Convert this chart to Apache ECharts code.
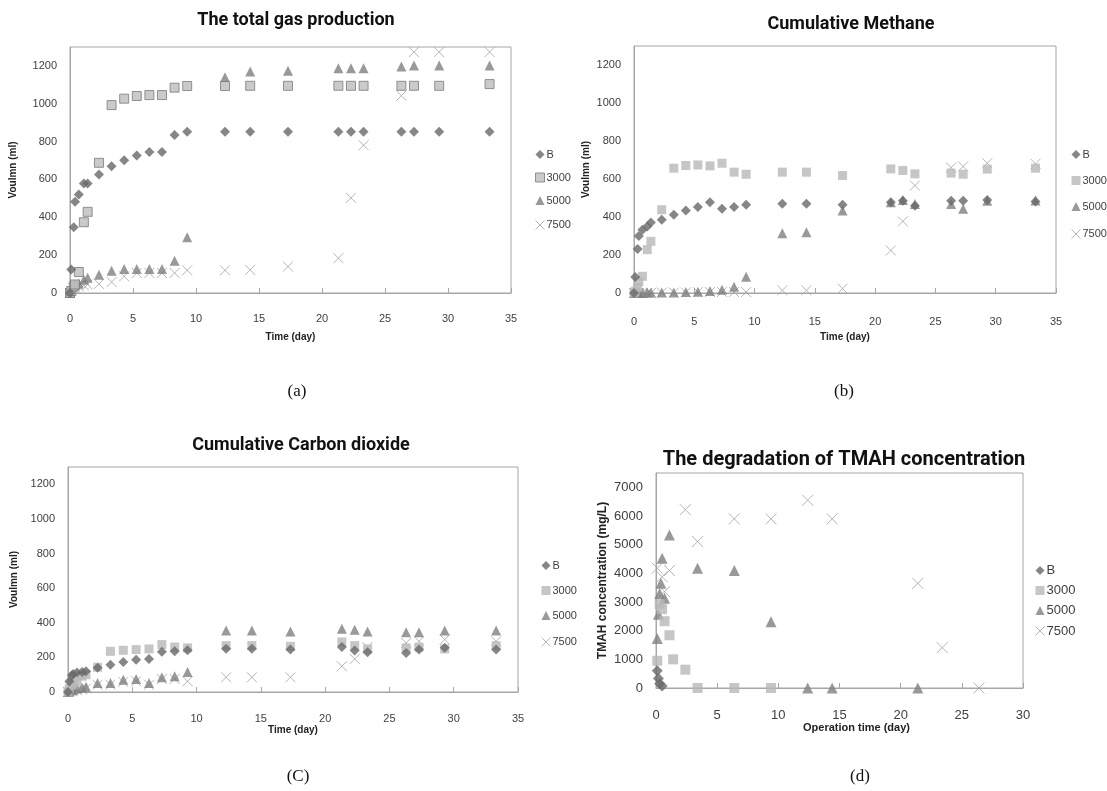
<!DOCTYPE html>
<html>
<head>
<meta charset="utf-8">
<script src="https://cdn.jsdelivr.net/npm/echarts/dist/echarts.min.js"></script>
<style>
  html, body { margin: 0; background: #fff; }
  #c { width: 1107px; height: 791px; }
</style>
</head>
<body>
<div id="c"></div>
<script>
(function () {
  "use strict";

  /* sampling days shared by the three gas panels (a)-(c) */
  const DAYS = [0, 0.1, 0.3, 0.4, 0.7, 1.1, 1.4, 2.3, 3.3, 4.3, 5.3, 6.3, 7.3, 8.3, 9.3,
    12.3, 14.3, 17.3, 21.3, 22.3, 23.3, 26.3, 27.3, 29.3, 33.3];

  /* (a) total gas production, ml */
  const GAS_B = [0, 124, 348, 482, 520, 579, 579, 626, 670, 702, 727, 745, 745, 835, 852,
    852, 852, 852, 852, 852, 852, 852, 852, 852, 852];
  const GAS_3000 = [0, 10, 35, 45, 111, 374, 429, 688, 993, 1027, 1041, 1046, 1046, 1085, 1094,
    1094, 1095, 1095, 1095, 1095, 1095, 1095, 1095, 1095, 1104];
  const GAS_5000 = [0, 25, 40, 45, 50, 70, 80, 97, 118, 127, 127, 127, 127, 171, 295,
    1140, 1170, 1175, 1188, 1188, 1188, 1197, 1202, 1202, 1202];
  const GAS_7500 = [0, 10, 25, 30, 35, 40, 45, 48, 58, 88, 106, 106, 106, 106, 120,
    120, 122, 140, 184, 503, 781, 1043, 1273, 1273, 1273];

  /* (b) cumulative methane, ml */
  const CH4_B = [0, 84, 231, 300, 333, 350, 371, 385, 412, 434, 452, 478, 443, 452, 464,
    470, 470, 464, 478, 485, 459, 485, 485, 490, 482];
  const CH4_3000 = [0, 10, 30, 60, 88, 228, 272, 438, 657, 671, 674, 669, 683, 636, 625,
    636, 636, 618, 653, 645, 627, 631, 625, 652, 657];
  const CH4_5000 = [0, 0, 0, 0, 0, 2, 2, 3, 3, 5, 7, 10, 17, 33, 86,
    315, 320, 434, 478, 490, 469, 469, 443, 485, 487];
  const CH4_7500 = [0, 0, 0, 0, 0, 0, 0, 2, 2, 3, 5, 5, 5, 5, 5,
    14, 14, 23, 224, 377, 566, 660, 666, 683, 680];

  /* (C) cumulative carbon dioxide, ml */
  const CO2_B = [0, 60, 95, 104, 112, 116, 120, 140, 158, 174, 187, 191, 232, 235, 241,
    250, 250, 245, 260, 240, 230, 225, 245, 255, 245];
  const CO2_3000 = [0, 20, 40, 52, 62, 91, 100, 143, 235, 241, 245, 249, 274, 260, 255,
    268, 268, 264, 289, 268, 249, 255, 259, 249, 268];
  const CO2_5000 = [0, 5, 10, 15, 20, 25, 30, 52, 52, 71, 75, 52, 85, 91, 116,
    355, 355, 350, 365, 360, 350, 345, 345, 355, 355];
  const CO2_7500 = [0, 2, 5, 8, 10, 15, 20, 42, 42, 58, 62, 42, 75, 75, 62,
    85, 85, 85, 149, 191, 259, 284, 293, 303, 293];

  /* (d) TMAH concentration, mg/L, each run with its own days */
  const TMAH_B_DAYS = [0.1, 0.2, 0.3, 0.5];
  const TMAH_B = [600, 330, 150, 70];
  const TMAH_3000_DAYS = [0.1, 0.3, 0.5, 0.7, 1.1, 1.4, 2.4, 3.4, 6.4, 9.4];
  const TMAH_3000 = [950, 2930, 2750, 2330, 1840, 1000, 640, 0, 0, 0];
  const TMAH_5000_DAYS = [0.1, 0.2, 0.3, 0.4, 0.5, 0.7, 1.1, 3.4, 6.4, 9.4, 12.4, 14.4, 21.4];
  const TMAH_5000 = [1730, 2570, 3300, 3650, 4530, 3130, 5340, 4180, 4100, 2310, 0, 0, 0];
  const TMAH_7500_DAYS = [0.1, 0.5, 0.7, 1.1, 2.4, 3.4, 6.4, 9.4, 12.4, 14.4, 21.4, 23.4, 26.4];
  const TMAH_7500 = [4180, 3880, 3360, 4100, 6220, 5110, 5900, 5900, 6550, 5900, 3650, 1410, 0];

  const NAMES = ["B", "3000", "5000", "7500"];
  const TITLES = ["The total gas production", "Cumulative Methane",
    "Cumulative Carbon dioxide", "The degradation of TMAH concentration"];
  const CAPTIONS = ["(a)", "(b)", "(C)", "(d)"];

  const DARK = "#686868";
  const LIGHT = "#b8b8b8";
  const MID = "#808080";
  const CROSS = "#a3a3a3";
  const AXIS = "#a6a6a6";
  const TXT = "#404040";
  const SANS = "'Liberation Sans', Arial, sans-serif";
  const CROSS_PATH = "path://M0,0L10,10M10,0L0,10";

  function zip(xs, ys) {
    const out = [];
    xs.forEach((x, i) => { if (ys[i] !== null && ys[i] !== undefined) out.push([x, ys[i]]); });
    return out;
  }

  // same legend label in every panel, kept distinct with zero-width spaces
  function tag(name, panel) {
    return name + "\u200b".repeat(panel);
  }

  // marker look per run; panel 0 draws squares with an outline like the original
  function look(k, panel) {
    const big = panel === 3 ? 1 : 0;
    if (k === 0) return { symbol: "diamond", symbolSize: 10 + big, itemStyle: { color: DARK } };
    if (k === 1) {
      return panel === 0
        ? { symbol: "rect", symbolSize: 9, itemStyle: { color: "#bdbdbd", borderColor: "#7a7a7a", borderWidth: 1 } }
        : { symbol: "rect", symbolSize: 9 + big, itemStyle: { color: LIGHT } };
    }
    if (k === 2) return { symbol: "triangle", symbolSize: 10 + big, itemStyle: { color: MID } };
    return { symbol: CROSS_PATH, symbolSize: 10 + big,
      itemStyle: { color: "none", borderColor: CROSS, borderWidth: 1 } };
  }

  const panels = [
    { xs: [DAYS, DAYS, DAYS, DAYS], ys: [GAS_B, GAS_3000, GAS_5000, GAS_7500] },
    { xs: [DAYS, DAYS, DAYS, DAYS], ys: [CH4_B, CH4_3000, CH4_5000, CH4_7500] },
    { xs: [DAYS, DAYS, DAYS, DAYS], ys: [CO2_B, CO2_3000, CO2_5000, CO2_7500] },
    { xs: [TMAH_B_DAYS, TMAH_3000_DAYS, TMAH_5000_DAYS, TMAH_7500_DAYS],
      ys: [TMAH_B, TMAH_3000, TMAH_5000, TMAH_7500] },
  ];

  const grids = [
    { left: 70, top: 47, width: 441, height: 246 },
    { left: 634, top: 46, width: 422, height: 247 },
    { left: 68, top: 467, width: 450, height: 225 },
    { left: 656, top: 473, width: 367, height: 215 },
  ].map((g) => Object.assign({ show: true, borderColor: AXIS, borderWidth: 1, containLabel: false }, g));

  const xMeta = [
    { max: 35, name: "Time (day)", margin: 20, gap: 39, fs: 11 },
    { max: 35, name: "Time (day)", margin: 23, gap: 39, fs: 11 },
    { max: 35, name: "Time (day)", margin: 21, gap: 33, fs: 11 },
    { max: 30, name: "Operation time (day)", margin: 21, gap: 33, fs: 13, pad: [0, 0, 0, 34] },
  ];
  const yMeta = [
    { max: 1300, step: 200, name: "Voulmn (ml)", gap: 52, fs: 11, nfs: 10 },
    { max: 1300, step: 200, name: "Voulmn (ml)", gap: 43, fs: 11, nfs: 10 },
    { max: 1300, step: 200, name: "Voulmn (ml)", gap: 49, fs: 11, nfs: 10 },
    { max: 7500, step: 1000, name: "TMAH concentration (mg/L)", gap: 47, fs: 13, nfs: 12 },
  ];

  const xAxis = xMeta.map((m, i) => ({
    type: "value", gridIndex: i, min: 0, max: m.max, interval: 5,
    name: m.name, nameLocation: "middle", nameGap: m.gap,
    nameTextStyle: { fontFamily: SANS, fontWeight: "bold", fontSize: i === 3 ? 11 : 10,
      color: "#222", padding: m.pad || 0 },
    axisLine: { show: true, lineStyle: { color: AXIS } },
    axisTick: { show: true, inside: true, length: 5, lineStyle: { color: AXIS } },
    axisLabel: { color: TXT, fontSize: m.fs, fontFamily: SANS, margin: m.margin },
    splitLine: { show: false },
  }));

  const yAxis = yMeta.map((m, i) => ({
    type: "value", gridIndex: i, min: 0, max: m.max, interval: m.step / 2,
    name: m.name, nameLocation: "middle", nameGap: m.gap,
    nameTextStyle: { fontFamily: SANS, fontWeight: "bold", fontSize: m.nfs, color: "#222" },
    axisLine: { show: true, lineStyle: { color: AXIS } },
    axisTick: { show: false },
    axisLabel: { color: TXT, fontSize: m.fs, fontFamily: SANS, margin: 13,
      showMaxLabel: false,
      formatter: (v) => (v % m.step === 0 ? String(v) : "") },
    splitLine: { show: false },
  }));

  const series = [];
  panels.forEach((p, i) => {
    NAMES.forEach((n, k) => {
      series.push(Object.assign({
        type: "scatter", name: tag(n, i), xAxisIndex: i, yAxisIndex: i,
        data: zip(p.xs[k], p.ys[k]), z: 2 + (3 - k), silent: true,
      }, look(k, i)));
    });
  });

  const legendPos = [
    { left: 528, top: 144, itemGap: 12, fs: 11 },
    { left: 1064, top: 144, itemGap: 15, fs: 11 },
    { left: 534, top: 555, itemGap: 14, fs: 11 },
    { left: 1028, top: 559, itemGap: 7, fs: 13 },
  ];
  const legend = legendPos.map((l, i) => ({
    orient: "vertical", left: l.left, top: l.top, itemGap: l.itemGap,
    itemWidth: 9, itemHeight: 9, selectedMode: false,
    textStyle: { color: TXT, fontSize: l.fs, fontFamily: SANS, padding: [0, 0, 0, -3] },
    data: NAMES.map((n, k) => {
      const s = look(k, i);
      return { name: tag(n, i), icon: s.symbol, itemStyle: s.itemStyle };
    }),
  }));

  const titlePos = [[296, 11], [851, 15], [301, 436], [844, 450]];
  const capPos = [[297, 383], [844, 383], [298, 768], [860, 768]];
  const title = [];
  TITLES.forEach((t, i) => title.push({
    text: t, left: titlePos[i][0], top: titlePos[i][1], textAlign: "center", padding: 0,
    textStyle: { fontFamily: "Roboto, sans-serif", fontWeight: "bold", fontSize: i === 3 ? 20 : 18, color: "#111" },
  }));
  CAPTIONS.forEach((t, i) => title.push({
    text: t, left: capPos[i][0], top: capPos[i][1], textAlign: "center", padding: 0,
    textStyle: { fontFamily: "'Liberation Serif', serif", fontWeight: "normal", fontSize: 17, color: "#111" },
  }));

  const chart = echarts.init(document.getElementById("c"), null, { renderer: "canvas" });
  chart.setOption({
    animation: false,
    backgroundColor: "#fff",
    title, legend, grid: grids, xAxis, yAxis, series,
  });
})();
</script>
</body>
</html>
